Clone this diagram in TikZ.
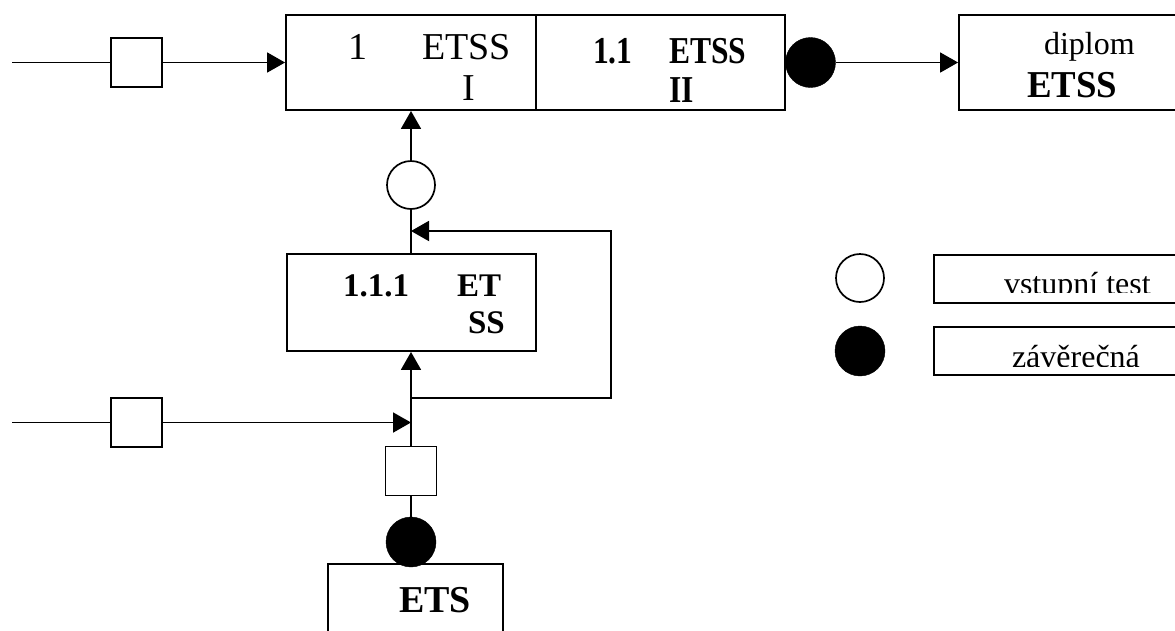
\documentclass[tikz,border=0pt]{standalone}
\usepackage{fontspec}
\setmainfont{Liberation Serif}
\usetikzlibrary{arrows.meta}
\tikzset{
  ln/.style={line width=1.9pt},
  arr/.style={ln, -{Triangle[length=18pt,width=20pt]}},
  box/.style={draw, line width=1.9pt, rectangle, inner sep=0pt},
  sq/.style={box, minimum width=51pt, minimum height=49pt},
  oc/.style={draw, line width=1.7pt, fill=white, circle, inner sep=0pt, minimum size=48pt},
  fc/.style={draw, fill=black, circle, inner sep=0pt, minimum size=50pt},
  t/.style={anchor=base west, inner sep=0pt, outer sep=0pt},
  rA/.style={font=\fontsize{38pt}{40pt}\selectfont},
  bA/.style={font=\fontsize{38pt}{40pt}\selectfont\bfseries},
  bB/.style={font=\fontsize{33pt}{36pt}\selectfont\bfseries},
  rB/.style={font=\fontsize{32pt}{35pt}\selectfont}
}
\begin{document}
\begin{tikzpicture}[x=1pt,y=-1pt]
\clip (0,0) rectangle (1175,630);
\fill[white] (0,0) rectangle (1175,630);

% blocks
\node[box, minimum width=250pt, minimum height=95pt] (s1) at (411,62.5) {};
\node[box, minimum width=249pt, minimum height=95pt] (s11) at (660.5,62.5) {};
\node[box, minimum width=232pt, minimum height=95pt] (dip) at (1075,62.5) {};
\node[box, minimum width=249pt, minimum height=97pt] (s111) at (411.5,302.5) {};
\node[box, minimum width=175pt, minimum height=90pt] (ets) at (415.5,609) {};
\node[box, minimum width=252pt, minimum height=48pt] (lg1) at (1060,279) {};
\node[box, minimum width=252pt, minimum height=48pt] (lg2) at (1060,351) {};

% small squares
\node[sq] (q1) at (136.5,62.5) {};
\node[sq] (q2) at (136.5,422.5) {};
\node[sq] (q3) at (411,471) {};

% test markers
\node[oc] (o1) at (411,185) {};
\node[fc] (f1) at (810.5,62.5) {};
\node[fc] (f2) at (411,542) {};
\node[oc] (lo) at (860,278) {};
\node[fc] (lf) at (860,351) {};

% free ends and loop corners
\coordinate (inA) at (12,62.5);
\coordinate (inB) at (12,422.5);
\coordinate (fbL) at (411,398);
\coordinate (fbR2) at (611,398);
\coordinate (fbR1) at (611,231);
\coordinate (fbT) at (411,231);

% connectors
\draw[ln] (inA) -- (q1);
\draw[arr] (q1) -- (s1);
\draw[arr] (o1) -- (o1 |- s1.south);
\draw[ln] (o1) -- (o1 |- s111.north);
\draw[arr] (fbL) -- (fbR2) -- (fbR1) -- (fbT);
\draw[ln] (inB) -- (q2);
\draw[arr] (q2) -- (q2 -| q3);
\draw[arr] (q3) -- (q3 |- s111.south);
\draw[ln] (f2) -- (q3);
\draw[arr] (f1) -- (dip);

% block labels
\node[t, rA] (l1a) at (348,59) {1};
\node[t, rA] (l1b) at (422,59) {ETSS};
\node[t, rA] (l1c) at (462,100) {I};
\node[t, bA] (l2a) at (593,63) {\scalebox{0.83}[1]{1.1}};
\node[t, bA] (l2b) at (669,63) {\scalebox{0.83}[1]{ETSS}};
\node[t, bA] (l2c) at (669,102) {\scalebox{0.83}[1]{II}};
\node[t, rB] (l3a) at (1044,54) {diplom};
\node[t, bA] (l3b) at (1027,97) {\scalebox{0.97}[1]{ETSS}};
\node[t, bB] (l4a) at (343,296) {1.1.1};
\node[t, bB] (l4b) at (457,296) {ET};
\node[t, bB] (l4c) at (468,333) {SS};
\node[t, bA] (l5) at (399,612) {ETS};

% legend labels, cut off at the lower edge of their text frames
\begin{scope}
  \clip (934,255) rectangle (1175,292);
  \node[t, rB] (lt1) at (1004,294) {vstupní test};
\end{scope}
\begin{scope}
  \clip (934,327) rectangle (1175,366);
  \node[t, rB] (lt2) at (1012,367) {závěrečná};
\end{scope}
\end{tikzpicture}
\end{document}
